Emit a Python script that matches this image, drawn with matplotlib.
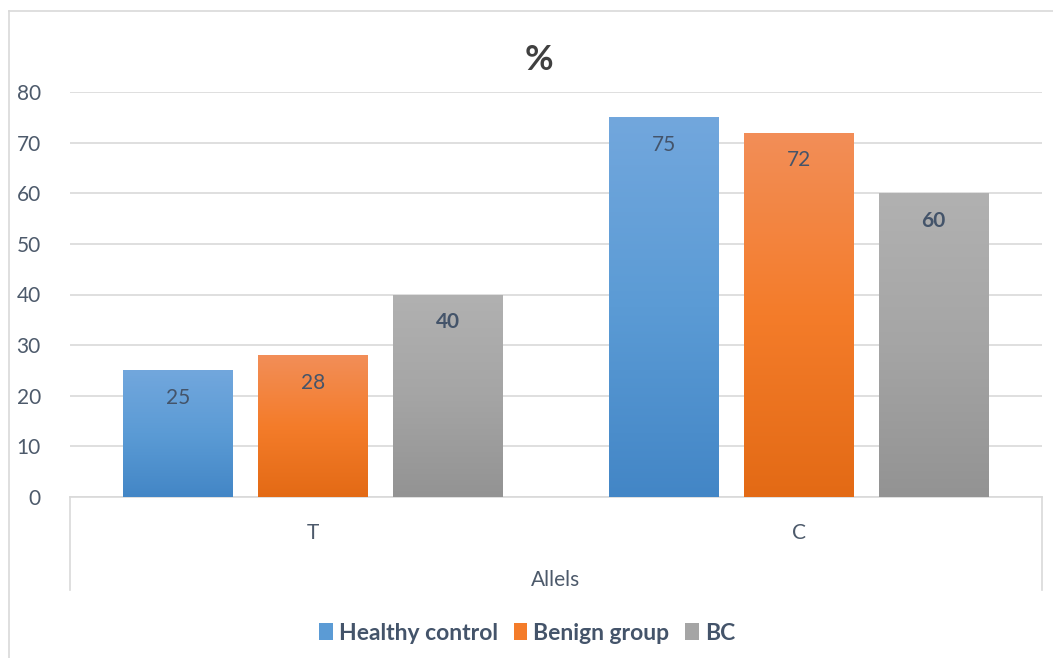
import numpy as np
import matplotlib.pyplot as plt
from matplotlib.colors import LinearSegmentedColormap
from matplotlib.lines import Line2D
from matplotlib.patches import Patch

plt.rcParams['font.family'] = ['Lato', 'DejaVu Sans']

categories = ['T', 'C']
series_names = ['Healthy control', 'Benign group', 'BC']
healthy = [25, 75]
benign = [28, 72]
bc = [40, 60]
yticks = [0, 10, 20, 30, 40, 50, 60, 70, 80]

# gradient colours (top, middle, bottom) per series
grads = [
    ['#72A7DD', '#5B9BD5', '#4386C6'],
    ['#F28E58', '#F47C2A', '#E36A15'],
    ['#B1B1B1', '#A5A5A5', '#939393'],
]
legend_cols = ['#5B9BD5', '#F47C2A', '#A5A5A5']
label_col = '#44546A'
tick_col = '#4D5A6B'
grid_col = '#D9D9D9'

fig = plt.figure(figsize=(10.53, 6.58), dpi=100)
ax = fig.add_axes([70/1053, 1 - 497/658, (1042-70)/1053, (497-92)/658])

x = np.arange(len(categories))
width = 0.226
offsets = [-0.277, 0, 0.277]
all_vals = [healthy, benign, bc]

for i, vals in enumerate(all_vals):
    bars = ax.bar(x + offsets[i], vals, width, color='none', edgecolor='none', zorder=3)
    cmap = LinearSegmentedColormap.from_list('g%d' % i, grads[i][::-1])
    for b, v in zip(bars, vals):
        x0 = b.get_x()
        img = ax.imshow(np.linspace(0, 1, 256).reshape(-1, 1), cmap=cmap, origin='lower',
                        extent=[x0, x0 + b.get_width(), 0, b.get_height()],
                        aspect='auto', zorder=3)
        img.set_clip_path(b)
        ax.annotate(str(v), (b.get_x() + b.get_width()/2, v), xytext=(0, -28),
                    textcoords='offset pixels', ha='center', va='center',
                    fontsize=15, color=label_col,
                    fontweight='bold' if i == 2 else 'normal', zorder=5)

ax.set_xlim(-0.5, 1.5)
ax.set_ylim(0, 80)
ax.set_yticks(yticks)
ax.set_xticks(x)
ax.set_xticklabels(categories)
ax.yaxis.grid(True, color=grid_col, linewidth=1.2)
ax.set_axisbelow(True)
for s in ['top', 'right', 'left']:
    ax.spines[s].set_visible(False)
ax.spines['bottom'].set_color(grid_col)
ax.spines['bottom'].set_linewidth(1.2)
ax.tick_params(axis='y', length=0, pad=21, labelsize=15, labelcolor=tick_col)
ax.tick_params(axis='x', length=0, pad=19, labelsize=15, labelcolor=tick_col)
ax.set_xlabel('Allels', fontsize=15, color=tick_col, labelpad=19)

# category box lines below the axis
tr = ax.get_xaxis_transform()
for xv in [-0.5, 1.5]:
    ax.add_line(Line2D([xv, xv], [0, -93/405], transform=tr, color=grid_col,
                       linewidth=1.2, clip_on=False))

# title sits centred on the whole chart area, not the plot
fig.text(539/1053, 1 - 60/658, '%', ha='center', va='center', fontsize=25,
         fontweight='bold', color='#404040')

handles = [Patch(facecolor=c, edgecolor='none') for c in legend_cols]
leg = fig.legend(handles, series_names, loc='center', bbox_to_anchor=(527/1053, 1 - 633/658),
                 ncol=3, frameon=False, handlelength=0.6, handleheight=0.7,
                 handletextpad=0.25, columnspacing=0.7,
                 prop={'size': 16.5, 'weight': 'bold'})
for t in leg.get_texts():
    t.set_color(label_col)

# chart area border (left and top edges)
fig.add_artist(Line2D([9/1053, 9/1053], [0, 1 - 11/658], transform=fig.transFigure,
                      color=grid_col, linewidth=1.2))
fig.add_artist(Line2D([9/1053, 1], [1 - 11/658, 1 - 11/658], transform=fig.transFigure,
                      color=grid_col, linewidth=1.2))

fig.savefig('out.png', dpi=100)
